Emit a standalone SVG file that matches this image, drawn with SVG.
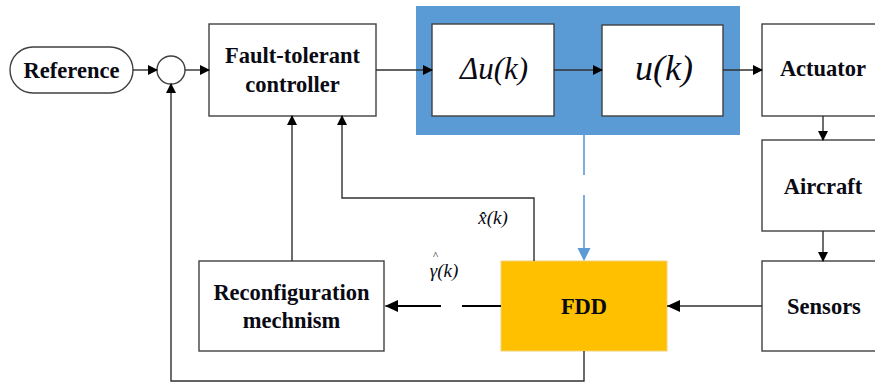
<svg xmlns="http://www.w3.org/2000/svg" width="875" height="383" viewBox="0 0 875 383">
<style>
.box{fill:#fff;stroke:#404040;stroke-width:1.4}
.t{font-family:"Liberation Serif",serif;font-weight:bold;font-size:22.5px;fill:#0a0a14;text-anchor:middle}
.m{font-family:"Liberation Serif",serif;font-style:italic;fill:#0a0a14;text-anchor:middle}
.ln{fill:none;stroke:#303030;stroke-width:1.4}
</style>
<defs>
<marker id="a" markerWidth="10" markerHeight="10" refX="9" refY="5" orient="auto" markerUnits="userSpaceOnUse"><path d="M0,0 L10,5 L0,10 z" fill="#000"/></marker>
<marker id="b" markerWidth="14" markerHeight="14" refX="13" refY="6.5" orient="auto" markerUnits="userSpaceOnUse"><path d="M0,0 L13,6.5 L0,13 z" fill="#5B9BD5"/></marker>
<marker id="c" markerWidth="14" markerHeight="14" refX="13" refY="7" orient="auto" markerUnits="userSpaceOnUse"><path d="M0,1 L13,7 L0,13 z" fill="#000"/></marker>
</defs>
<rect width="875" height="383" fill="#fff"/>
<g id="ctrl-group"><rect x="416" y="6" width="324" height="129" fill="#5B9BD5"/></g>
<g id="reference"><rect class="box" x="10" y="47" width="123" height="46" rx="23"/><text class="t" x="71.5" y="78">Reference</text></g>
<g id="sum"><circle class="box" cx="171" cy="70" r="14"/></g>
<g id="ftc"><rect class="box" x="209" y="24" width="167" height="92"/><text class="t" x="292.5" y="63">Fault-tolerant</text><text class="t" x="292.5" y="92">controller</text></g>
<g id="du"><rect class="box" x="432" y="24" width="122" height="92"/><text class="m" x="494" y="79" font-size="31">Δu(k)</text></g>
<g id="u"><rect class="box" x="602" y="25" width="121" height="91"/><text class="m" x="664" y="80" font-size="36">u(k)</text></g>
<g id="actuator"><rect class="box" x="762" y="24" width="130" height="92"/><text class="t" x="823" y="76">Actuator</text></g>
<g id="aircraft"><rect class="box" x="762" y="140" width="130" height="91"/><text class="t" x="823" y="194">Aircraft</text></g>
<g id="sensors"><rect class="box" x="762" y="261" width="130" height="90"/><text class="t" x="824" y="314">Sensors</text></g>
<g id="fdd"><rect x="501" y="261" width="166" height="90" fill="#FFC000" stroke="#F2D27A" stroke-width="1"/><text class="t" x="584" y="314">FDD</text></g>
<g id="reconf"><rect class="box" x="199" y="261" width="185" height="90"/><text class="t" x="291.5" y="300">Reconfiguration</text><text class="t" x="291.5" y="328">mechnism</text></g>
<g id="connectors">
<line class="ln" x1="133" y1="70" x2="157" y2="70" marker-end="url(#a)"/>
<line class="ln" x1="185" y1="70" x2="209" y2="70" marker-end="url(#a)"/>
<line class="ln" x1="376" y1="70" x2="432" y2="70" marker-end="url(#a)"/>
<line class="ln" x1="554" y1="70" x2="602" y2="70" marker-end="url(#a)"/>
<line class="ln" x1="723" y1="70" x2="762" y2="70" marker-end="url(#a)"/>
<line class="ln" x1="823" y1="116" x2="823" y2="140" marker-end="url(#a)"/>
<line class="ln" x1="823" y1="231" x2="823" y2="261" marker-end="url(#a)"/>
<line class="ln" x1="762" y1="306" x2="667" y2="306" marker-end="url(#c)"/>
<path d="M584,135 V175 M584,195 V250" fill="none" stroke="#5B9BD5" stroke-width="1.6"/>
<line x1="584" y1="248" x2="584" y2="261" stroke="none" marker-end="url(#b)"/>
<path d="M501,306 H462 M441,306 H398" fill="none" stroke="#000" stroke-width="2.2"/>
<line x1="398" y1="306" x2="385" y2="306" stroke="#000" stroke-width="1" marker-end="url(#c)"/>
<line class="ln" x1="292" y1="261" x2="292" y2="116" marker-end="url(#a)"/>
<polyline class="ln" points="534,261 534,198 342,198 342,116" marker-end="url(#a)"/>
<polyline class="ln" points="584,351 584,381 171,381 171,84" marker-end="url(#a)"/>
</g>
<g id="labels">
<text class="m" x="493" y="224" font-size="19">x̂(k)</text>
<text class="m" x="444" y="277" font-size="19">γ(k)</text>
<text class="m" x="435" y="259" font-size="11">^</text>
</g>
</svg>
